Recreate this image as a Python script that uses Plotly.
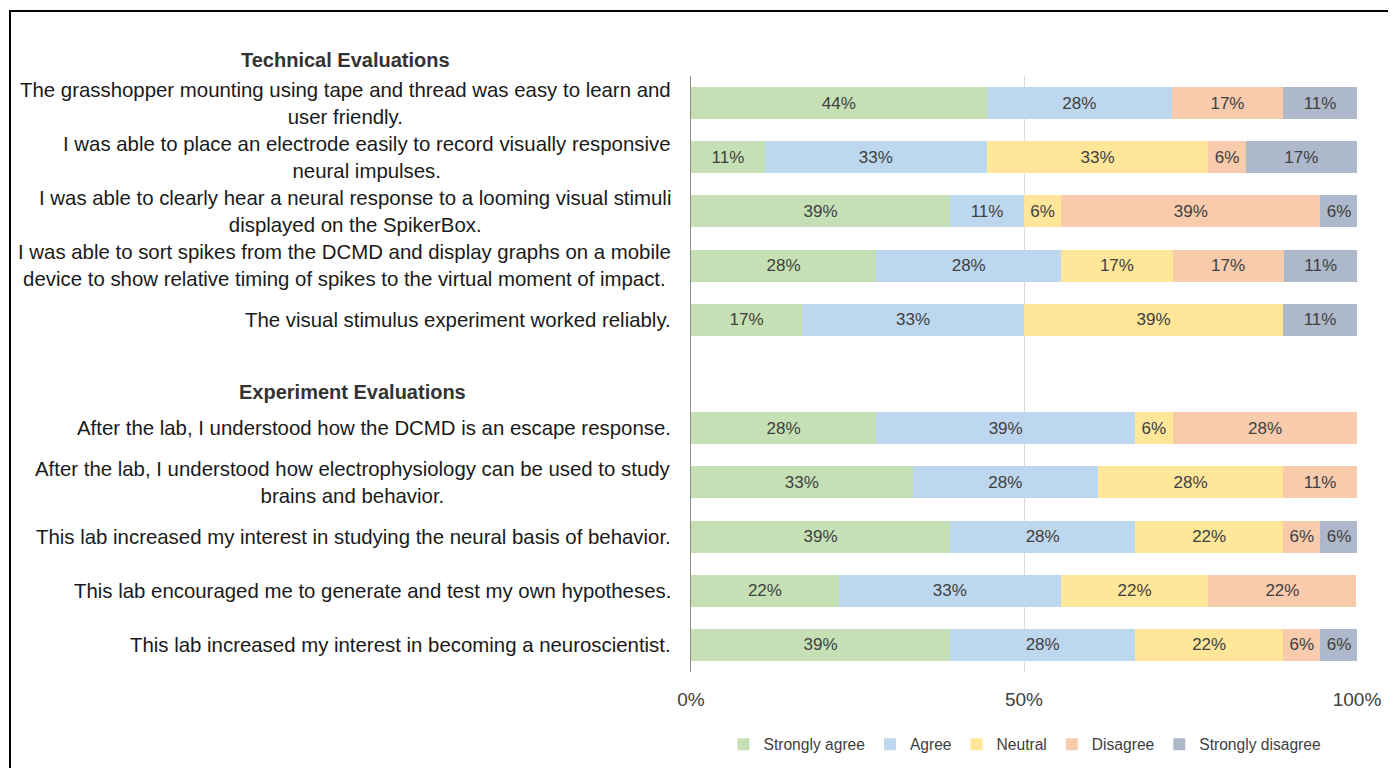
import plotly.graph_objects as go

questions = [
    "The grasshopper mounting using tape and thread was easy to learn and<br>user friendly.",
    "I was able to place an electrode easily to record visually responsive<br>neural impulses.",
    "I was able to clearly hear a neural response to a looming visual stimuli<br>displayed on the SpikerBox.",
    "I was able to sort spikes from the DCMD and display graphs on a mobile<br>device to show relative timing of spikes to the virtual moment of impact.",
    "The visual stimulus experiment worked reliably.",
    "After the lab, I understood how the DCMD is an escape response.",
    "After the lab, I understood how electrophysiology can be used to study<br>brains and behavior.",
    "This lab increased my interest in studying the neural basis of behavior.",
    "This lab encouraged me to generate and test my own hypotheses.",
    "This lab increased my interest in becoming a neuroscientist.",
]
spacer = " "
section_titles = ["Technical Evaluations", "Experiment Evaluations"]

responses = ["Strongly agree", "Agree", "Neutral", "Disagree", "Strongly disagree"]
strongly_agree = [44.4, 11.1, 38.9, 27.8, 16.7, 27.8, 33.3, 38.9, 22.2, 38.9]
agree = [27.8, 33.3, 11.1, 27.8, 33.3, 38.9, 27.8, 27.8, 33.3, 27.8]
neutral = [0, 33.3, 5.6, 16.7, 38.9, 5.6, 27.8, 22.2, 22.2, 22.2]
disagree = [16.7, 5.6, 38.9, 16.7, 0, 27.8, 11.1, 5.6, 22.2, 5.6]
strongly_disagree = [11.1, 16.7, 5.6, 11.1, 11.1, 0, 0, 5.6, 0, 5.6]
x_ticks = [0, 50, 100]
x_tick_labels = ["0%", "50%", "100%"]

colors = ["#c5e0b4", "#bdd7ee", "#ffe699", "#f8cbad", "#adb9ca"]
series = [strongly_agree, agree, neutral, disagree, strongly_disagree]

categories = questions[:5] + [spacer] + questions[5:]
FONT = "Liberation Sans, Arial, Helvetica, sans-serif"

fig = go.Figure()
for name, vals, col in zip(responses, series, colors):
    fig.add_trace(go.Bar(
        y=questions, x=vals, name=name, orientation="h",
        marker=dict(color=col, line=dict(width=0)),
        text=[f"{round(v)}%" if v > 0 else "" for v in vals],
        textposition="inside", insidetextanchor="middle",
        textfont=dict(color="#404040", size=17, family=FONT),
        hovertemplate="%{x:.1f}%<extra>" + name + "</extra>",
    ))

annotations = []
for q in questions:
    annotations.append(dict(
        xref="paper", yref="y", x=0, y=q, xanchor="right", yanchor="middle",
        xshift=-18, text=q, showarrow=False, align="center",
        font=dict(size=20.4, color="#1a1a1a", family=FONT),
    ))
annotations.append(dict(xref="paper", yref="paper", x=-0.519, y=1.027,
                        text="<b>" + section_titles[0] + "</b>", showarrow=False,
                        xanchor="center", yanchor="middle",
                        font=dict(size=20, color="#333333", family=FONT)))
annotations.append(dict(xref="paper", yref="paper", x=-0.509, y=0.4698,
                        text="<b>" + section_titles[1] + "</b>", showarrow=False,
                        xanchor="center", yanchor="middle",
                        font=dict(size=20, color="#333333", family=FONT)))

fig.update_layout(
    barmode="stack",
    bargap=0.41,
    width=1388, height=760,
    margin=dict(l=683, r=39, t=68, b=96, autoexpand=False),
    plot_bgcolor="white", paper_bgcolor="white",
    font=dict(family=FONT, color="#404040"),
    uniformtext=dict(minsize=17, mode="show"),
    xaxis=dict(range=[0, 100], tickvals=x_ticks, ticktext=x_tick_labels,
               showgrid=True, gridcolor="#d9d9d9", gridwidth=1, zeroline=False,
               showline=False, ticks="", tickfont=dict(size=19, color="#404040"),
               ticklabelstandoff=14, fixedrange=True),
    yaxis=dict(categoryorder="array", categoryarray=categories,
               autorange="reversed", showticklabels=False, showgrid=False,
               showline=True, linecolor="#8c8c8c", linewidth=1, ticks="",
               zeroline=False, fixedrange=True),
    legend=dict(orientation="h", x=0.5015, xanchor="center", y=-0.122,
                yanchor="middle", font=dict(size=15.6, color="#404040"),
                traceorder="normal", itemwidth=30, bgcolor="rgba(0,0,0,0)"),
    annotations=annotations,
    shapes=[dict(type="rect", xref="paper", yref="paper",
                 x0=-1.0225, x1=1.2, y0=-0.3, y1=1.109,
                 line=dict(color="black", width=2))],
)

fig.write_html("out.html")
